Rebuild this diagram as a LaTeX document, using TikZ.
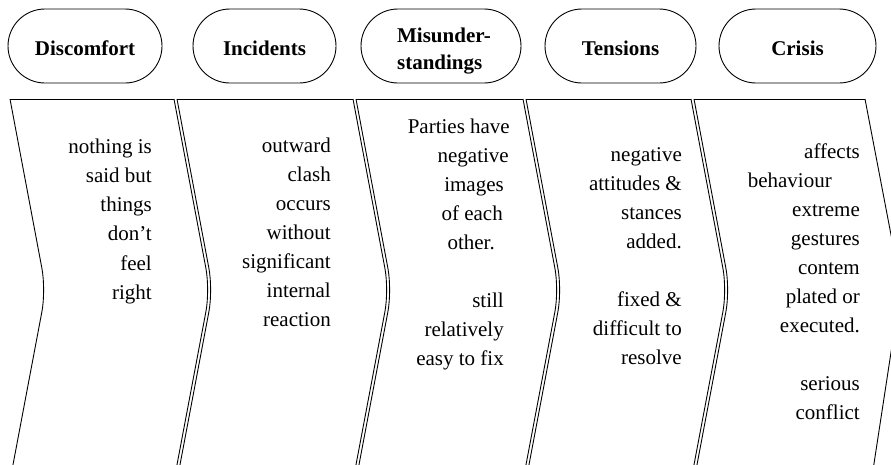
\documentclass[tikz,border=0pt]{standalone}
\usepackage{fontspec}
\setmainfont{LiberationSerif}[Extension=.ttf, UprightFont=*-Regular, BoldFont=*-Bold, ItalicFont=*-Italic, BoldItalicFont=*-BoldItalic]
\usetikzlibrary{shapes.misc}
\begin{document}
\begin{tikzpicture}[x=1pt,y=-1pt,
  hdr/.style={draw, line width=0.9pt, rounded rectangle, minimum height=74pt, inner sep=0pt},
  htext/.style={font=\bfseries\fontsize{21}{27}\selectfont, align=left, inner sep=0pt},
  edge/.style={line width=0.9pt, rounded corners=22pt},
  topline/.style={line width=0.9pt},
  body/.style={font=\fontsize{21}{29}\selectfont, anchor=base east, inner sep=0pt}]
\clip (0,0) rectangle (891,464);
\useasboundingbox (0,0) rectangle (891,464);
% headers
\node[hdr, minimum width=154pt] (h1) at (85,46) {};
\node[hdr, minimum width=143pt] (h2) at (264.5,46) {};
\node[hdr, minimum width=160pt] (h3) at (441,46) {};
\node[hdr, minimum width=151pt] (h4) at (620.5,46) {};
\node[hdr, minimum width=157pt] (h5) at (797.5,46) {};
\node[htext] (t1) at ([yshift=-2.5pt]h1.center) {Discomfort};
\node[htext] (t2) at ([yshift=-2.5pt]h2.center) {Incidents};
\node[htext] (t3) at ([xshift=3pt,yshift=-5pt]h3.center) {Misunder-\\standings};
\node[htext] (t4) at ([yshift=-2.5pt]h4.center) {Tensions};
\node[htext] (t5) at ([yshift=-2.5pt]h5.center) {Crisis};
% panel edges
\foreach \x in {10,177,356,526,694,174,353,523,691}
  \draw[edge] (\x,99) -- (\x+36,290) -- (\x+2,470);
\draw[edge] (865,99) -- (901,287) -- (873,470);
% top edges
\draw[topline] (10,99) -- (174,99);
\draw[topline] (177,99) -- (353,99);
\draw[topline] (356,99) -- (523,99);
\draw[topline] (526,99) -- (691,99);
\draw[topline] (694,99) -- (865,99);
% panel 1
\foreach \t [count=\i] in {nothing is, said but, things, don’t, feel, right}
  \node[body] (pa\i) at (152,{153+29.3*(\i-1)}) {\t};
% panel 2
\foreach \t [count=\i] in {outward, clash, occurs, without, significant, internal, reaction}
  \node[body] (pb\i) at (331,{152+29*(\i-1)}) {\t};
% panel 3
\node[body] (pc1) at (510,133) {Parties have};
\node[body] (pc2) at (509,162) {negative};
\node[body] (pc3) at (504,191) {images};
\node[body] (pc4) at (503,220) {of each};
\node[body] (pc5) at (495,249) {other.};
\foreach \t [count=\i] in {still, relatively, easy to fix}
  \node[body] (pd\i) at (504,{307+29*(\i-1)}) {\t};
% panel 4
\foreach \t [count=\i] in {negative, attitudes \&, stances, added.}
  \node[body] (pe\i) at (682,{161+29*(\i-1)}) {\t};
\foreach \t [count=\i] in {fixed \&, difficult to, resolve}
  \node[body] (pf\i) at (682,{306+29*(\i-1)}) {\t};
% panel 5
\node[body] (pg1) at (860,158) {affects};
\node[body] (pg2) at (832,187) {behaviour};
\foreach \t [count=\i] in {extreme, gestures, contem, plated or, executed.}
  \node[body] (ph\i) at (860,{216+29*(\i-1)}) {\t};
\foreach \t [count=\i] in {serious, conflict}
  \node[body] (pk\i) at (860,{390+29*(\i-1)}) {\t};
\end{tikzpicture}
\end{document}
